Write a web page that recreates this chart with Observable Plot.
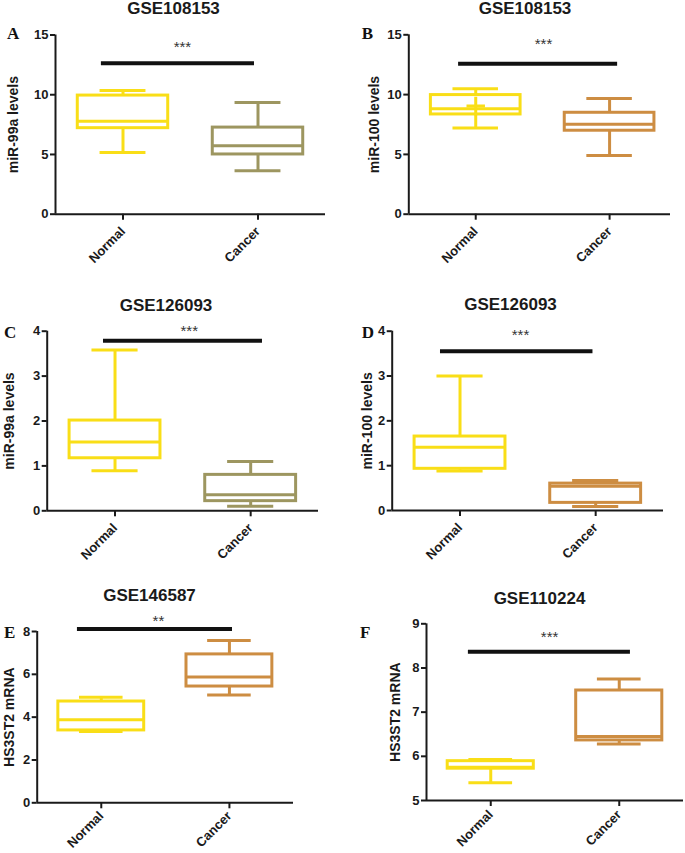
<!DOCTYPE html>
<html><head><meta charset="utf-8">
<script src="https://cdn.jsdelivr.net/npm/d3@7"></script>
<script src="https://cdn.jsdelivr.net/npm/@observablehq/plot@0.6"></script>
<style>
body{margin:0;background:#fff;}
#root{position:relative;width:685px;height:853px;overflow:hidden;background:#fff;}
.panel{position:absolute;}
.panel svg{overflow:visible;display:block;}
.title{position:absolute;font:bold 17px/17px "Liberation Sans",Arial,sans-serif;color:#1a1a1a;transform:translateX(-50%);white-space:nowrap;}
.letter{position:absolute;font:bold 17px/17px "Liberation Serif","Times New Roman",serif;color:#111;}
</style></head><body><div id="root"></div>
<script>
// ---- data ----
const groups = ["Normal", "Cancer"];
const panelLetters = ["A", "B", "C", "D", "E", "F"];
const titles = ["GSE108153", "GSE108153", "GSE126093", "GSE126093", "GSE146587", "GSE110224"];
const yLabels = ["miR-99a levels", "miR-100 levels", "miR-99a levels", "miR-100 levels", "HS3ST2 mRNA", "HS3ST2 mRNA"];
const yDomains = [[0, 15], [0, 15], [0, 4], [0, 4], [0, 8], [5, 9]];
const yTicks = [[0, 5, 10, 15], [0, 5, 10, 15], [0, 1, 2, 3, 4], [0, 1, 2, 3, 4], [0, 2, 4, 6, 8], [5, 6, 7, 8, 9]];
const xDomains = [[0.5, 2.5], [0.5, 2.455], [0.5, 2.5], [0.5, 2.5], [0.5, 2.5], [0.5, 2.5]];
// five-number summaries: [min, q1, median, q3, max]
const normalStats = [
  [5.16, 7.2, 7.78, 9.93, 10.35],
  [7.2, 8.34, 8.82, 9.96, 10.49],
  [0.89, 1.17, 1.53, 2.01, 3.58],
  [0.88, 0.93, 1.41, 1.65, 3.00],
  [3.33, 3.38, 3.88, 4.73, 4.93],
  [5.40, 5.72, 5.75, 5.89, 5.93]
];
const cancerStats = [
  [3.63, 5.0, 5.72, 7.25, 9.35],
  [4.91, 6.98, 7.53, 8.48, 9.68],
  [0.10, 0.215, 0.36, 0.80, 1.10],
  [0.09, 0.17, 0.54, 0.60, 0.67],
  [5.04, 5.43, 5.87, 6.93, 7.58],
  [6.28, 6.36, 6.45, 7.49, 7.75]
];
const normalMeans = [null, 9.05, null, null, null, null];
const sigY = [12.64, 12.58, 3.79, 3.55, 8.12, 8.37];
const sigX1 = [0.84, 0.872, 0.915, 0.856, 0.814, 0.826];
const sigX2 = [1.974, 2.06, 2.087, 1.98, 2.024, 2.087];
const sigStarX = [1.44, 1.506, 1.547, 1.446, 1.446, 1.458];
const sigStarY = [14.02, 14.24, 3.99, 3.90, 8.48, 8.70];
const sigLabels = ["***", "***", "***", "***", "**", "***"];
const normalColor = "#F9DE17";
const cancerColors = ["#9D9660", "#CD8D42", "#9D9660", "#CD8D42", "#CD8D42", "#CD8D42"];

// ---- layout ----
const layout = [
  {left: 0,   top: 0,   width: 340, height: 290, mt: 34.5, mb: 76.3, ml: 55,   mr: 15, lo: 47, xp: 9, tx: 173.5, tt: 0,     lx: 7,     lb: 39.3},
  {left: 340, top: 0,   width: 345, height: 290, mt: 34.3, mb: 76.3, ml: 68.3, mr: 15, lo: 40, xp: 9, tx: 525,   tt: 0,     lx: 361.7, lb: 39.3},
  {left: 0,   top: 290, width: 340, height: 270, mt: 40.7, mb: 49.7, ml: 46.7, mr: 22, lo: 43, xp: 9, tx: 166,   tt: 296.6, lx: 4,     lb: 338.3},
  {left: 340, top: 290, width: 345, height: 270, mt: 40.7, mb: 50,   ml: 51.7, mr: 22, lo: 30, xp: 9, tx: 510.5, tt: 295.6, lx: 361.7, lb: 338.3},
  {left: 0,   top: 560, width: 340, height: 293, mt: 71,   mb: 50.7, ml: 36.7, mr: 47, lo: 33, xp: 5, tx: 149.5, tt: 587.3, lx: 4,     lb: 637.7},
  {left: 340, top: 560, width: 345, height: 293, mt: 63.3, mb: 53,   ml: 86,   mr: 2,  lo: 36, xp: 6, tx: 539.5, tt: 589.6, lx: 360,   lb: 638}
];
const boxHalf = 0.335, capHalf = 0.17;
const ink = "#1a1a1a";

const root = document.getElementById("root");

panelLetters.forEach((letter, i) => {
  const L = layout[i];
  const stats = [normalStats[i], cancerStats[i]];
  const colors = [normalColor, cancerColors[i]];
  const rows = groups.map((g, j) => ({
    x: j + 1, group: g,
    min: stats[j][0], q1: stats[j][1], med: stats[j][2], q3: stats[j][3], max: stats[j][4],
    color: colors[j]
  }));
  const means = normalMeans[i] == null ? [] : [{x: 1, mean: normalMeans[i], color: normalColor}];
  const sig = [{y: sigY[i], x1: sigX1[i], x2: sigX2[i], sx: sigStarX[i], sy: sigStarY[i], label: sigLabels[i]}];

  const svg = Plot.plot({
    width: L.width, height: L.height,
    marginTop: L.mt, marginBottom: L.mb, marginLeft: L.ml, marginRight: L.mr,
    style: {fontFamily: "'Liberation Sans', Arial, sans-serif", fontSize: "13px", fontWeight: "bold", color: ink, overflow: "visible", background: "transparent"},
    x: {domain: xDomains[i]},
    y: {domain: yDomains[i]},
    color: {type: "identity"},
    marks: [
      Plot.axisY({ticks: yTicks[i], tickFormat: d => String(d), tickSize: 5, tickPadding: 2, strokeWidth: 2, label: null, fontSize: 13, fontWeight: "bold"}),
      Plot.axisX({ticks: [1, 2], tickFormat: d => groups[d - 1], tickRotate: -45, tickSize: 6, tickPadding: L.xp, strokeWidth: 2, label: null, fontSize: 13, fontWeight: "bold"}),
      Plot.ruleY([yDomains[i][0]], {stroke: ink, strokeWidth: 2}),
      Plot.ruleX([xDomains[i][0]], {stroke: ink, strokeWidth: 2}),
      // whiskers
      Plot.ruleX(rows, {x: "x", y1: "q3", y2: "max", stroke: "color", strokeWidth: 3}),
      Plot.ruleX(rows, {x: "x", y1: "min", y2: "q1", stroke: "color", strokeWidth: 3}),
      Plot.ruleY(rows, {y: "max", x1: d => d.x - capHalf, x2: d => d.x + capHalf, stroke: "color", strokeWidth: 3}),
      Plot.ruleY(rows, {y: "min", x1: d => d.x - capHalf, x2: d => d.x + capHalf, stroke: "color", strokeWidth: 3}),
      // box
      Plot.rect(rows, {x1: d => d.x - boxHalf, x2: d => d.x + boxHalf, y1: "q1", y2: "q3", fill: "none", stroke: "color", strokeWidth: 3}),
      Plot.ruleY(rows, {y: "med", x1: d => d.x - boxHalf, x2: d => d.x + boxHalf, stroke: "color", strokeWidth: 3}),
      Plot.dot(means, {x: "x", y: "mean", symbol: "plus", r: 6, stroke: "color", strokeWidth: 3}),
      // significance
      Plot.ruleY(sig, {y: "y", x1: "x1", x2: "x2", stroke: "#111", strokeWidth: 4}),
      Plot.text(sig, {x: "sx", y: "sy", text: "label", fontSize: 15, fontWeight: "normal", fill: "#333"}),
      // y label
      Plot.text([yLabels[i]], {text: d => d, frameAnchor: "left", textAnchor: "middle", rotate: -90, dx: -L.lo, lineAnchor: "top", fontSize: 14, fontWeight: "bold", fill: ink})
    ]
  });
  const wrap = document.createElement("div");
  wrap.className = "panel";
  wrap.style.left = L.left + "px";
  wrap.style.top = L.top + "px";
  wrap.appendChild(svg);
  root.appendChild(wrap);

  const t = document.createElement("div");
  t.className = "title";
  t.textContent = titles[i];
  t.style.left = L.tx + "px";
  t.style.top = L.tt + "px";
  root.appendChild(t);

  const lt = document.createElement("div");
  lt.className = "letter";
  lt.textContent = letter;
  lt.style.left = L.lx + "px";
  lt.style.top = (L.lb - 14.2) + "px";
  root.appendChild(lt);
});
</script>
</body></html>
